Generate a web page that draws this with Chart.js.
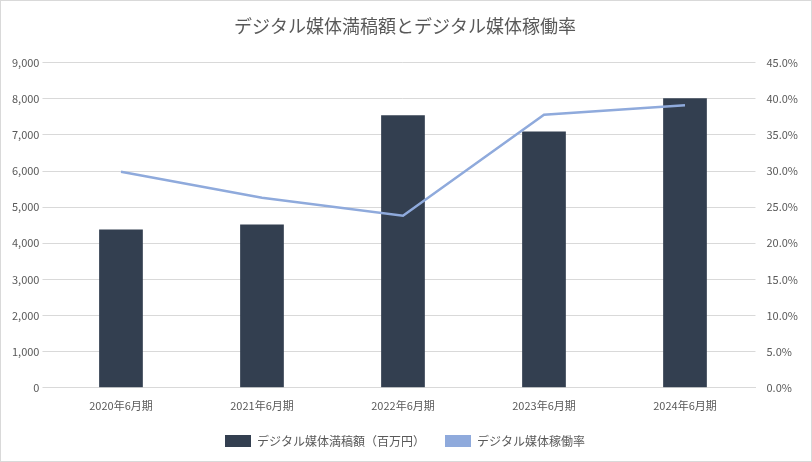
<!DOCTYPE html>
<html><head><meta charset="utf-8">
<script src="https://cdn.jsdelivr.net/npm/chart.js@4"></script>
<style>html,body{margin:0;background:#fff}#w{position:absolute;left:0;top:0;width:810px;height:460px;border:1px solid #d9d9d9}</style>
</head><body><div id="w"><canvas id="c"></canvas></div>
<script>
const categories=["2020年6月期","2021年6月期","2022年6月期","2023年6月期","2024年6月期"];
const amount=[4380,4520,7540,7090,8010];
const rate=[29.9,26.3,23.8,37.8,39.1];
const font="'Noto Sans CJK JP','Noto Sans',sans-serif";
Chart.defaults.font.family=font;
new Chart(document.getElementById('c'),{
 data:{labels:categories,datasets:[
  {type:'line',label:'デジタル媒体稼働率',data:rate,yAxisID:'y1',borderColor:'#8faadc',backgroundColor:'#8faadc',borderWidth:2.5,pointRadius:0,tension:0,order:0},
  {type:'bar',label:'デジタル媒体満稿額（百万円）',data:amount,yAxisID:'y',backgroundColor:'#333f50',barPercentage:0.31,categoryPercentage:1,order:1}
 ]},
 options:{responsive:true,maintainAspectRatio:false,animation:false,
  layout:{padding:{left:8,right:10,top:4,bottom:4}},
  plugins:{title:{display:true,text:'デジタル媒体満稿額とデジタル媒体稼働率',color:'#595959',font:{size:18,weight:'normal'},padding:{top:10,bottom:26}},
   legend:{position:'bottom',labels:{color:'#595959',font:{size:12},boxWidth:26,padding:20,
    generateLabels(ch){return ch.data.datasets.map((d,i)=>({text:d.label,fillStyle:d.backgroundColor,strokeStyle:d.backgroundColor,lineWidth:0,datasetIndex:i,fontColor:'#595959'})).reverse();}}}},
  scales:{
   x:{grid:{display:false},border:{color:'#d9d9d9'},ticks:{color:'#595959',font:{size:11}}},
   y:{min:0,max:9000,ticks:{stepSize:1000,color:'#595959',font:{size:11},callback:v=>v.toLocaleString('en-US')},grid:{color:'#d9d9d9'},border:{display:false}},
   y1:{position:'right',min:0,max:45,ticks:{stepSize:5,color:'#595959',font:{size:11},callback:v=>v.toFixed(1)+'%'},grid:{display:false},border:{display:false}}
  }}
});
</script></body></html>
